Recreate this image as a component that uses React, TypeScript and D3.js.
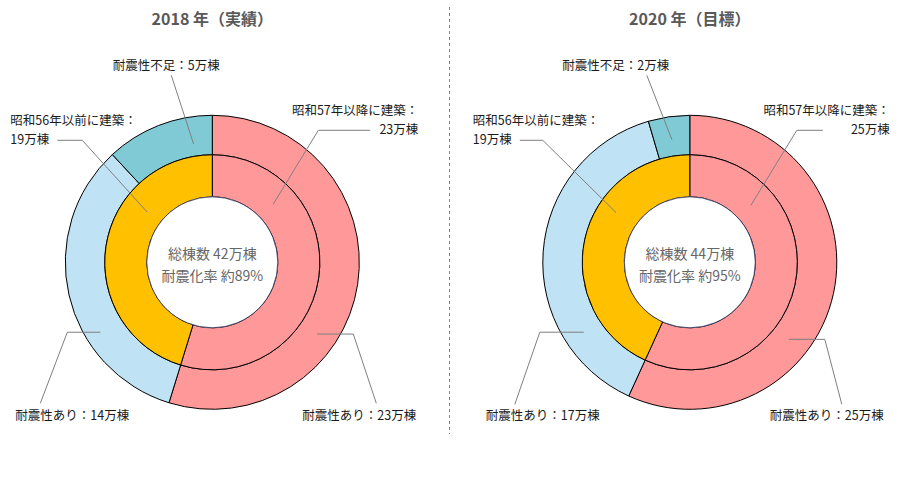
import React from 'react';
import * as d3 from 'd3';

// chart values (万棟)
const titles = ['2018 年（実績）', '2020 年（目標）'];
const outerCategories = ['耐震性あり（昭和57年以降）', '耐震性あり（昭和56年以前）', '耐震性不足'];
const innerCategories = ['昭和57年以降に建築', '昭和56年以前に建築'];
const outerValues = [
  [23, 14, 5],
  [25, 17, 2],
];
const innerValues = [
  [23, 19],
  [25, 19],
];
const totals = [42, 44];
const rates = [89, 95];

const outerColors = ['#FF9999', '#BFE2F5', '#7FCAD4'];
const innerColors = ['#FF9999', '#FFC000'];

const R_OUT = 147;
const R_MID = 107.5;
const R_HOLE = 65.5;

const FONT = '"Noto Sans CJK JP", "Noto Sans", sans-serif';

// label layout per panel: text position, elbow, anchor (angle deg / radius from centre)
interface LabelLayout {
  lines: (i: number) => string[];
  x: number;
  y: number;
  anchor: 'start' | 'middle' | 'end';
  lineFrom: [number, number];
  elbow?: [number, number];
  angle: number;
  r: number;
}

const layouts: LabelLayout[][] = [
  [
    { lines: () => [`耐震性不足：${outerValues[0][2]}万棟`], x: -46, y: -192, anchor: 'middle', lineFrom: [-41, -187], angle: 351, r: 120 },
    { lines: () => ['昭和56年以前に建築：', `${innerValues[0][1]}万棟`], x: -202, y: -137, anchor: 'start', lineFrom: [-155, -122], elbow: [-130, -122], angle: 307.6, r: 82 },
    { lines: () => ['昭和57年以降に建築：', `${innerValues[0][0]}万棟`], x: 206, y: -147, anchor: 'end', lineFrom: [158, -132], elbow: [106, -132], angle: 46.4, r: 84 },
    { lines: () => [`耐震性あり：${outerValues[0][1]}万棟`], x: -197, y: 158, anchor: 'start', lineFrom: [-172, 141], elbow: [-145, 0], angle: 238, r: 132 },
    { lines: () => [`耐震性あり：${outerValues[0][0]}万棟`], x: 90, y: 158, anchor: 'start', lineFrom: [164, 141], elbow: [141, 0], angle: 124.4, r: 127 },
  ],
  [
    { lines: () => [`耐震性不足：${outerValues[1][2]}万棟`], x: -74, y: -192, anchor: 'middle', lineFrom: [-43, -187], angle: 351.7, r: 124 },
    { lines: () => ['昭和56年以前に建築：', `${innerValues[1][1]}万棟`], x: -217, y: -137, anchor: 'start', lineFrom: [-170, -122], elbow: [-147, -122], angle: 304, r: 89 },
    { lines: () => ['昭和57年以降に建築：', `${innerValues[1][0]}万棟`], x: 200, y: -147, anchor: 'end', lineFrom: [133, -132], elbow: [107, -132], angle: 47, r: 83.5 },
    { lines: () => [`耐震性あり：${outerValues[1][1]}万棟`], x: -204, y: 158, anchor: 'start', lineFrom: [-175, 142], elbow: [-150, 0], angle: 236.6, r: 127 },
    { lines: () => [`耐震性あり：${outerValues[1][0]}万棟`], x: 80, y: 158, anchor: 'start', lineFrom: [152, 142], elbow: [135, 0], angle: 127.9, r: 125.4 },
  ],
];

const centres: [number, number][] = [
  [212.3, 262.3],
  [689.8, 262.3],
];

const pie = d3.pie<number>().value((d) => d).sort(null);
const outerArc = d3.arc<d3.PieArcDatum<number>>().innerRadius(R_MID).outerRadius(R_OUT);
const innerArc = d3.arc<d3.PieArcDatum<number>>().innerRadius(R_HOLE).outerRadius(R_MID);

function Donut({ idx }: { idx: number }) {
  const [cx, cy] = centres[idx];
  const outer = pie(outerValues[idx]);
  const inner = pie(innerValues[idx]);

  return (
    <g>
      <text
        x={cx}
        y={24.5}
        textAnchor="middle"
        fontFamily={FONT}
        fontSize={16}
        fontWeight={700}
        fill="#595959"
      >
        {titles[idx]}
      </text>
      <g transform={`translate(${cx},${cy})`}>
        {outer.map((d, i) => (
          <path key={'o' + i} d={outerArc(d) || ''} fill={outerColors[i]} stroke="#000" strokeWidth={1}>
            <title>{outerCategories[i]}</title>
          </path>
        ))}
        {inner.map((d, i) => (
          <path key={'i' + i} d={innerArc(d) || ''} fill={innerColors[i]} stroke="#000" strokeWidth={1}>
            <title>{innerCategories[i]}</title>
          </path>
        ))}
        <circle r={R_HOLE} fill="#fff" stroke="#2b2f5c" strokeWidth={0.8} />
        <text y={-3.5} textAnchor="middle" fontFamily={FONT} fontSize={14} fill="#666">
          {`総棟数 ${totals[idx]}万棟`}
        </text>
        <text y={18.5} textAnchor="middle" fontFamily={FONT} fontSize={14} fill="#666">
          {`耐震化率 約${rates[idx]}%`}
        </text>

        {layouts[idx].map((l, k) => {
          const rad = (l.angle * Math.PI) / 180;
          const [ax, ay] = d3.pointRadial(rad, l.r);
          const pts: [number, number][] = [l.lineFrom];
          if (l.elbow) pts.push([l.elbow[0], l.elbow[1] === 0 ? ay : l.elbow[1]]);
          pts.push([ax, ay]);
          const lines = l.lines(idx);
          return (
            <g key={'l' + k}>
              <polyline
                points={pts.map((p) => p.join(',')).join(' ')}
                fill="none"
                stroke="#7f7f7f"
                strokeWidth={1}
              />
              {lines.map((t, j) => (
                <text
                  key={j}
                  x={l.x}
                  y={l.y + j * 19}
                  textAnchor={l.anchor}
                  fontFamily={FONT}
                  fontSize={12.5}
                  fill="#1a1a1a"
                >
                  {t}
                </text>
              ))}
            </g>
          );
        })}
      </g>
    </g>
  );
}

export default function App() {
  return (
    <svg
      width={900}
      height={480}
      style={{ position: 'absolute', left: 0, top: 0, background: '#fff' }}
    >
      <line x1={449.5} x2={449.5} y1={7} y2={434} stroke="#3a9bd0" strokeWidth={1} strokeDasharray="3,3" />
      {titles.map((_, i) => (
        <Donut key={i} idx={i} />
      ))}
    </svg>
  );
}
